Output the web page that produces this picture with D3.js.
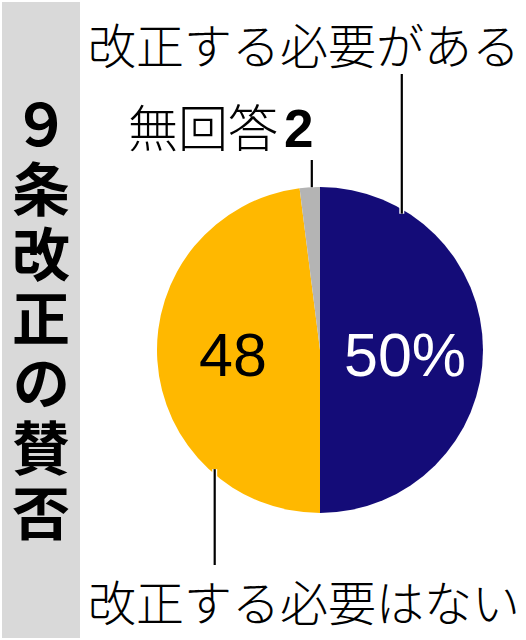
<!DOCTYPE html>
<html><head><meta charset="utf-8">
<script src="https://cdn.jsdelivr.net/npm/d3@7"></script>
<style>html,body{margin:0;padding:0;background:#fff;}svg{display:block;}</style>
</head><body>
<svg id="c" width="526" height="640"></svg>
<script>
const title = ["９","条","改","正","の","賛","否"];
const categories = ["改正する必要がある","改正する必要はない","無回答"];
const values = [50, 48, 2];
const valueLabels = ["50%","48",""];
const colors = ["#140c78","#ffb800","#b4b4b4"];

const svg = d3.select("#c");
const cx = 320, cy = 350, R = 163;

// title band
svg.append("rect").attr("x",2).attr("y",2).attr("width",78).attr("height",636).attr("fill","#d9d9d9");
svg.append("text")
  .attr("x",41).attr("y",95)
  .style("writing-mode","vertical-rl").style("text-orientation","upright")
  .style("letter-spacing","6.8px")
  .style("font-family","'Noto Sans CJK JP'").style("font-weight",700).style("font-size","58px")
  .text(title.join(""));

const pie = d3.pie().sort(null).value(d=>d)(values);
const arc = d3.arc().innerRadius(0).outerRadius(R);
const g = svg.append("g").attr("transform",`translate(${cx},${cy})`);
g.selectAll("path").data(pie).join("path").attr("d",arc).attr("fill",(d,i)=>colors[i]);

// value labels
const lblPos = [[85,4.5],[-87,4.5]];
g.selectAll("text.val").data(pie.slice(0,2)).join("text")
  .attr("class","val")
  .attr("x",(d,i)=>lblPos[i][0]).attr("y",(d,i)=>lblPos[i][1])
  .attr("text-anchor","middle").attr("dominant-baseline","central")
  .attr("fill",(d,i)=>i===0?"#fff":"#000")
  .style("font-family","'Liberation Sans', Arial, sans-serif").style("font-size","61px")
  .text((d,i)=>valueLabels[i]);

// leader lines
const leaders = [
  {i:0, frac:0.172, r:159, y2:74-cy},
  {i:1, frac:0.24, r:159, y2:565-cy},
  {i:2, frac:0.6, r:163, y2:160-cy}
];
leaders.forEach(l=>{
  const d = pie[l.i];
  const a = d.startAngle + (d.endAngle-d.startAngle)*l.frac;
  const x = Math.sin(a)*l.r, y = -Math.cos(a)*l.r;
  g.append("line").attr("x1",x).attr("x2",x).attr("y1",y).attr("y2",l.y2)
    .attr("stroke","#fff").attr("stroke-width",5);
  g.append("line").attr("x1",x).attr("x2",x).attr("y1",y).attr("y2",l.y2)
    .attr("stroke","#000").attr("stroke-width",2.2);
});

// category labels
const labelFont = "'Noto Sans CJK JP', sans-serif";
svg.append("text").attr("x",88).attr("y",43).attr("dominant-baseline","central")
  .style("font-family",labelFont).style("font-weight",300).style("font-size","48px")
  .text(categories[0]);
svg.append("text").attr("x",88).attr("y",600).attr("dominant-baseline","central")
  .style("font-family",labelFont).style("font-weight",300).style("font-size","48px")
  .text(categories[1]);
const t3 = svg.append("text").attr("x",128).attr("y",125).attr("dominant-baseline","central")
  .style("font-family",labelFont).style("font-weight",300).style("font-size","50px");
t3.append("tspan").text(categories[2]);
t3.append("tspan").attr("dx",6).style("font-family","'Liberation Sans', Arial, sans-serif")
  .style("font-weight",700).style("font-size","53px").attr("dy",3).text(values[2]);
</script>
</body></html>
